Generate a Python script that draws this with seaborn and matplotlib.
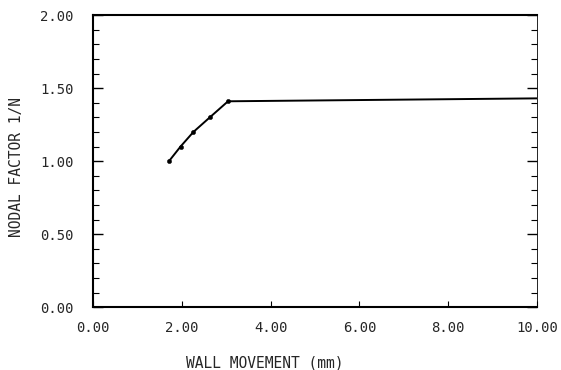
import matplotlib
matplotlib.use("Agg")
import matplotlib.pyplot as plt
import pandas as pd
import seaborn as sns
from matplotlib.ticker import MultipleLocator

# values
wall_movement = [1.71, 1.97, 2.26, 2.63, 3.04, 10.00]
nodal_factor = [1.00, 1.10, 1.20, 1.30, 1.41, 1.43]
marked = [True, True, True, True, True, False]
x_ticks = [0, 2, 4, 6, 8, 10]
y_ticks = [0.0, 0.5, 1.0, 1.5, 2.0]

df = pd.DataFrame({"x": wall_movement, "y": nodal_factor, "marked": marked})

sns.set_theme(style="ticks")
plt.rcParams["font.family"] = ["DejaVu Sans Mono"]

fig = plt.figure(figsize=(5.61, 3.70), dpi=100)
ax = fig.add_axes([0.166, 0.170, 0.791, 0.789])

sns.lineplot(data=df, x="x", y="y", color="black", linewidth=1.4, ax=ax)
sns.scatterplot(data=df[df["marked"]], x="x", y="y", color="black", s=10,
                edgecolor="black", ax=ax, zorder=3)

ax.set_xlim(0, 10)
ax.set_ylim(0, 2)
ax.set_xticks(x_ticks)
ax.set_yticks(y_ticks)
ax.set_xticklabels([f"{v:.2f}" for v in x_ticks], fontsize=10)
ax.set_yticklabels([f"{v:.2f}" for v in y_ticks], fontsize=10)
ax.yaxis.set_minor_locator(MultipleLocator(0.1))
ax.tick_params(axis="y", which="both", direction="in", left=True, right=True,
               color="black")
ax.tick_params(axis="y", which="major", length=7, width=1.0, pad=14)
ax.tick_params(axis="y", which="minor", length=4, width=0.8)
ax.tick_params(axis="x", which="major", direction="in", length=4, width=0.8,
               top=False, pad=10, color="black")

for side in ["left", "bottom", "top"]:
    ax.spines[side].set_visible(True)
    ax.spines[side].set_linewidth(1.5)
    ax.spines[side].set_color("black")
ax.spines["right"].set_visible(True)
ax.spines["right"].set_linewidth(0.6)
ax.spines["right"].set_color("black")

ax.set_xlabel("WALL MOVEMENT (mm)", fontsize=10.5)
ax.set_ylabel("NODAL FACTOR 1/N", fontsize=10.5)
# the plotter put the axis titles a bit off-centre
ax.xaxis.set_label_coords(0.387, -0.165)
ax.yaxis.set_label_coords(-0.155, 0.479)

fig.savefig("out.png", dpi=100)
plt.close(fig)
